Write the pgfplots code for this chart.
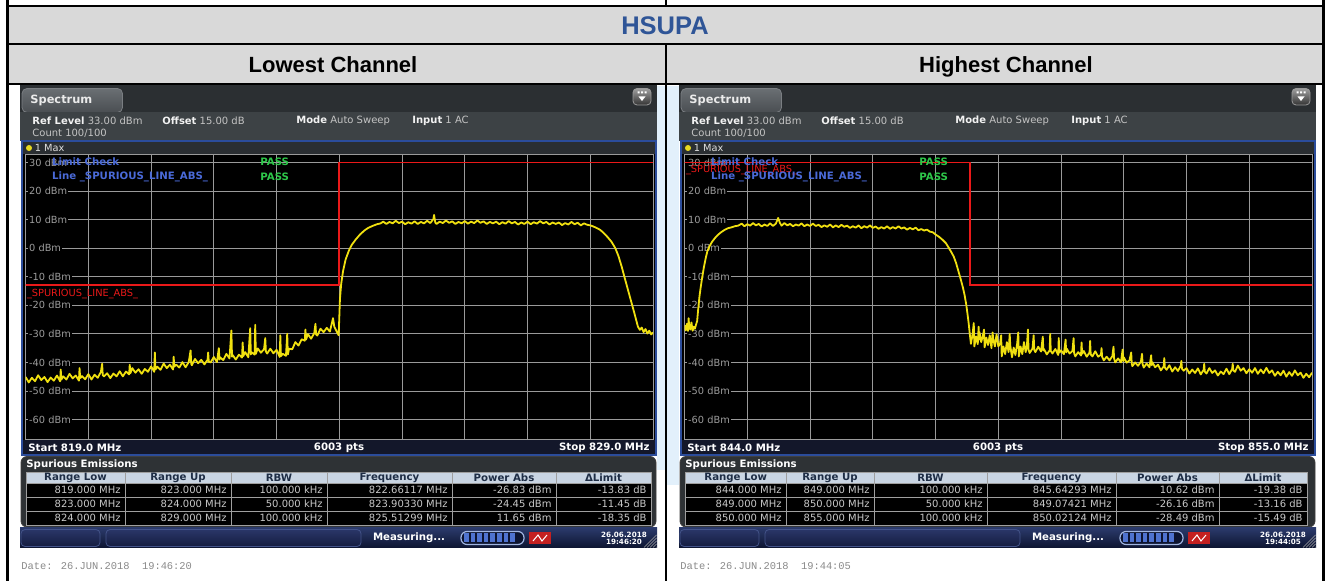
\documentclass[border=0pt]{standalone}
\usepackage{pgfplots}
\pgfplotsset{compat=1.18}
\usepackage{fontspec}
\setmainfont{Liberation Sans}
\newfontfamily\dv{DejaVu Sans}
\newfontfamily\lmono{Liberation Mono}
\definecolor{hdrgray}{HTML}{D9D9D9}
\definecolor{hdrblue}{HTML}{2F5597}
\definecolor{wm}{HTML}{E2F0FB}
\definecolor{topbar}{HTML}{2B2F32}
\definecolor{infobar}{HTML}{3D4245}
\definecolor{tabtop}{HTML}{6A6F73}
\definecolor{tabbot}{HTML}{4A4E52}
\definecolor{tabedge}{HTML}{7A7E82}
\definecolor{winblue}{HTML}{2B4C9B}
\definecolor{wintitle}{HTML}{2A2E32}
\definecolor{gridc}{HTML}{9A9A9A}
\definecolor{lblc}{HTML}{9C9C9C}
\definecolor{trace}{HTML}{F0E010}
\definecolor{limred}{RGB}{235,25,25}
\definecolor{lcblue}{HTML}{4A6AD8}
\definecolor{passg}{HTML}{2EC84A}
\definecolor{strip}{HTML}{13172A}
\definecolor{spurbg}{HTML}{2E3235}
\definecolor{thead}{HTML}{C9D5E3}
\definecolor{theadtxt}{HTML}{1E2D45}
\definecolor{cellc}{HTML}{C8C8C8}
\definecolor{valc}{HTML}{C4C4C4}
\definecolor{stattop}{HTML}{2B3A6B}
\definecolor{statbot}{HTML}{0D1430}
\definecolor{btntop}{HTML}{2A3668}
\definecolor{btnbot}{HTML}{151D40}
\definecolor{btnedge}{HTML}{44548A}
\definecolor{progedge}{HTML}{A0B4E0}
\definecolor{progc}{HTML}{4F73D0}
\definecolor{redc}{HTML}{C42020}
\definecolor{dotc}{HTML}{E8D820}
\definecolor{datec}{HTML}{8A8A8A}
\newcommand\fs[1]{\fontsize{#1}{#1}\selectfont}
\tikzset{
  cellt/.style={anchor=east,inner sep=0,font=\dv\fs{5},text=cellc},
  hd/.style={inner sep=0,font=\dv\bfseries\fs{5.1},text=theadtxt},
  wt/.style={inner sep=0,font=\dv\bfseries\fs{5.1},text=white},
  inf/.style={anchor=west,inner sep=0,font=\dv\fs{5}},
  lblnode/.style={anchor=west, inner sep=0.6pt, fill=black, text=lblc, font=\dv\fs{4.9}, xshift=1pt},
}
\pgfplotsset{
  spec/.style={anchor=north west, width=313.7pt, height=142.75pt, scale only axis,
    ymin=-67, ymax=33, ytick={-60,-50,...,30}, xticklabels={}, yticklabels={},
    major tick length=0pt, grid=major, major grid style={gridc, line width=0.45pt},
    axis line style={gridc, line width=0.45pt}, axis background/.style={fill=black},
    clip=true},
}
% chrome of one analyser screenshot: #1 start, #2 stop, #3 time
\newcommand\chrome[3]{%
  \fill[topbar] (20,85.5) rectangle (657,112);
  \shadedraw[top color=tabtop,bottom color=tabbot,draw=tabedge,rounded corners=2.5] (22,88.5) rectangle (122.5,112.5);
  \node[anchor=west,inner sep=0,font=\dv\bfseries\fs{5.7},text=white!92!black] at (30,100) {Spectrum};
  \shadedraw[top color=gray!75,bottom color=gray!40!black,draw=gray!80,rounded corners=2] (633,88.5) rectangle (651,105);
  \fill[white] (637.5,91.5) rectangle (639.5,93.5) (641,91.5) rectangle (643,93.5) (644.5,91.5) rectangle (646.5,93.5);
  \fill[white] (638.5,96.5) -- (645.5,96.5) -- (642,101) -- cycle;
  \fill[infobar] (20,112) rectangle (657,141);
  \node[inf] at (32,121) {\textcolor{white!95!black}{\bfseries Ref Level}\ \textcolor{valc}{33.00 dBm}};
  \node[inf] at (162,121) {\textcolor{white!95!black}{\bfseries Offset}\ \textcolor{valc}{15.00 dB}};
  \node[inf] at (296,121) {\textcolor{white!95!black}{\bfseries Mode}\ \textcolor{valc}{Auto Sweep}};
  \node[inf] at (412,121) {\textcolor{white!95!black}{\bfseries Input}\ \textcolor{valc}{1 AC}};
  \node[inf,text=valc] at (32,133) {Count 100/100};
  \fill[wintitle] (22,141) rectangle (656,154);
  \fill[black] (22,154) rectangle (656,440);
  \fill[strip] (22,440) rectangle (656,455);
  \draw[winblue,line width=1pt] (22,141) rectangle (656,455.5);
  \fill[dotc] (29,148) circle (1.5pt);
  \node[anchor=west,inner sep=0,font=\dv\fs{4.9},text=gray!25] at (34.5,148) {1 Max};
  \node[wt,anchor=west] at (28,447.5) {Start #1 MHz};
  \node[wt] at (339,447.5) {6003 pts};
  \node[wt,anchor=east] at (650,447.5) {Stop #2 MHz};
  \filldraw[fill=spurbg, draw=gray!50!black, rounded corners=3] (21,456.5) rectangle (656,527);
  \node[wt,anchor=west] at (26,464.5) {Spurious Emissions};
  \shade[top color=stattop,bottom color=statbot] (20,528) rectangle (657,548);
  \shadedraw[top color=btntop,bottom color=btnbot,draw=btnedge,rounded corners=2] (21,529.5) rectangle (100,546.5);
  \shadedraw[top color=btntop,bottom color=btnbot,draw=btnedge,rounded corners=2] (106,529.5) rectangle (361,546.5);
  \node[wt] at (409,538) {Measuring...};
  \draw[draw=progedge, fill=statbot, rounded corners=3, line width=0.6pt] (461,531.5) rectangle (524,544.5);
  \foreach \k in {0,...,7} \fill[progc] ({464+\k*6.6},533.5) rectangle ({468.5+\k*6.6},542.5);
  \fill[redc] (529,532) rectangle (551,544.5);
  \draw[white,line width=0.5pt] (533,541) -- (538,535) -- (542,541) -- (547,535);
  \node[align=center,inner sep=0,font=\dv\bfseries\fs{3.6},text=white] at (624,538) {26.06.2018\\#3};
  \foreach \k in {0,...,4} \draw[gray!70,line width=0.35pt] ({644+\k*3},547.5) -- (656.5,{535+\k*3});
  \node[anchor=west,inner sep=0,font=\lmono\fs{5.2},text=datec] at (21,566.5) {Date: 26.JUN.2018\ \ #3};
}
% table grid: 7 column edges
\newcommand\tgrid[7]{%
  \fill[thead] (#1,472) rectangle (#7,483);
  \fill[black] (#1,483) rectangle (#7,525);
  \foreach \yy in {483,497,511} \draw[gray!75,line width=0.4pt] (#1,\yy) -- (#7,\yy);
  \foreach \xx in {#2,#3,#4,#5,#6} \draw[gray!75,line width=0.4pt] (\xx,472) -- (\xx,525);
  \draw[gray!75,line width=0.4pt] (#1,472) rectangle (#7,525);
  \node[hd] at ({(#1+#2)/2},477.5) {Range Low};
  \node[hd] at ({(#2+#3)/2},477.5) {Range Up};
  \node[hd] at ({(#3+#4)/2},477.5) {RBW};
  \node[hd] at ({(#4+#5)/2},477.5) {Frequency};
  \node[hd] at ({(#5+#6)/2},477.5) {Power Abs};
  \node[hd] at ({(#6+#7)/2},477.5) {ΔLimit};
  \def\ca{#2}\def\cb{#3}\def\cc{#4}\def\cd{#5}\def\ce{#6}\def\cf{#7}%
}
\newcommand\trow[7]{%
  \node[cellt] at ({\ca-4},#1) {#2};
  \node[cellt] at ({\cb-4},#1) {#3};
  \node[cellt] at ({\cc-4},#1) {#4};
  \node[cellt] at ({\cd-4},#1) {#5};
  \node[cellt] at ({\ce-4},#1) {#6};
  \node[cellt] at ({\cf-4},#1) {#7};
}
\begin{document}
\begin{tikzpicture}
\begin{scope}[x=0.5pt,y=-0.5pt]
\useasboundingbox (0,0) rectangle (1330,581);
\fill[white] (0,0) rectangle (1330,581);
% header table
\fill[hdrgray] (9,7) rectangle (1322,43.5);
\fill[hdrgray] (9,45.3) rectangle (1322,83.5);
\fill[wm] (657,86) rectangle (664.8,470);
\fill[wm] (667.3,86) rectangle (679,485);
\fill[black] (6,0) rectangle (9,581);
\fill[black] (1322,0) rectangle (1325,581);
\fill[black] (6,5) rectangle (1325,7);
\fill[black] (6,43.3) rectangle (1325,45.3);
\fill[black] (6,83.5) rectangle (1325,85.5);
\fill[black] (664.8,0) rectangle (667.3,5);
\fill[black] (664.8,45) rectangle (667.3,581);
\node[anchor=base,inner sep=0,font=\bfseries\fs{12.75},text=hdrblue] at (665,35) {HSUPA};
\node[anchor=base,inner sep=0,font=\bfseries\fs{11}] at (333,72.5) {Lowest Channel};
\node[anchor=base,inner sep=0,font=\bfseries\fs{11}] at (1006,72.5) {Highest Channel};
% left screenshot
\chrome{819.0}{829.0}{19:46:20}
\tgrid{26}{125}{231}{327}{452}{556}{651}
\trow{490}{819.000 MHz}{823.000 MHz}{100.000 kHz}{822.66117 MHz}{-26.83 dBm}{-13.83 dB}
\trow{504}{823.000 MHz}{824.000 MHz}{50.000 kHz}{823.90330 MHz}{-24.45 dBm}{-11.45 dB}
\trow{518}{824.000 MHz}{829.000 MHz}{100.000 kHz}{825.51299 MHz}{11.65 dBm}{-18.35 dB}
\end{scope}
% right screenshot
\begin{scope}[x=0.5pt,y=-0.5pt,xshift=329.5pt]
\chrome{844.0}{855.0}{19:44:05}
\tgrid{26.5}{127}{215}{328}{457}{560}{648}
\trow{490}{844.000 MHz}{849.000 MHz}{100.000 kHz}{845.64293 MHz}{10.62 dBm}{-19.38 dB}
\trow{504}{849.000 MHz}{850.000 MHz}{50.000 kHz}{849.07421 MHz}{-26.16 dBm}{-13.16 dB}
\trow{518}{850.000 MHz}{855.000 MHz}{100.000 kHz}{850.02124 MHz}{-28.49 dBm}{-15.49 dB}
\end{scope}
% left spectrum
\begin{axis}[spec, at={(12.8pt,-77pt)}, xmin=819, xmax=829, xtick={819,820,...,829}]
\node[lblnode] at (axis cs:819,30) {30 dBm};
\node[lblnode] at (axis cs:819,20) {20 dBm};
\node[lblnode] at (axis cs:819,10) {10 dBm};
\node[lblnode] at (axis cs:819,0) {0 dBm};
\node[lblnode] at (axis cs:819,-10) {-10 dBm};
\node[lblnode] at (axis cs:819,-20) {-20 dBm};
\node[lblnode] at (axis cs:819,-30) {-30 dBm};
\node[lblnode] at (axis cs:819,-40) {-40 dBm};
\node[lblnode] at (axis cs:819,-50) {-50 dBm};
\node[lblnode] at (axis cs:819,-60) {-60 dBm};
\node[anchor=north west,inner sep=0,text=limred,font=\dv\fs{4.9},xshift=0.5pt] at (axis cs:819,-14.2) {\_SPURIOUS\_LINE\_ABS\_};
\addplot[draw=limred, line width=0.9pt, mark=none] coordinates {(818.9,-13) (824,-13) (824,30) (829.1,30)};
\addplot[trace, line width=0.9pt, line join=round] coordinates {
(819.00,-45.1) (819.05,-47.0) (819.10,-45.4) (819.15,-46.6) (819.20,-44.5) (819.25,-46.2) (819.30,-45.1) (819.35,-46.9) (819.40,-45.3) (819.45,-46.4) (819.50,-44.6) (819.55,-46.6) (819.56,-42.5) (819.57,-46.0)
(819.60,-44.9) (819.65,-46.0) (819.70,-44.0) (819.75,-45.6) (819.80,-44.6) (819.85,-46.4) (819.86,-42.0) (819.87,-45.5) (819.90,-44.8) (819.95,-45.9)
(820.00,-44.1) (820.05,-46.0) (820.10,-44.3) (820.15,-45.4) (820.20,-43.3) (820.22,-40.5) (820.23,-44.5) (820.25,-44.9) (820.30,-43.8) (820.35,-45.5) (820.40,-43.9) (820.45,-44.9)
(820.50,-43.1) (820.55,-44.9) (820.60,-43.2) (820.65,-44.2) (820.66,-40.8) (820.67,-43.8) (820.70,-42.0) (820.75,-43.6) (820.80,-42.4) (820.85,-44.0) (820.90,-42.3) (820.95,-43.3)
(821.00,-41.4) (821.05,-43.3) (821.06,-36.5) (821.07,-42.5) (821.10,-41.5) (821.15,-42.6) (821.20,-40.4) (821.25,-42.0) (821.30,-40.8) (821.35,-42.5) (821.36,-38.0) (821.37,-41.5) (821.40,-40.8) (821.45,-41.8)
(821.50,-39.9) (821.55,-41.7) (821.60,-39.9) (821.63,-35.8) (821.64,-40.5) (821.65,-41.0) (821.70,-38.8) (821.75,-40.3) (821.80,-39.1) (821.85,-40.7) (821.90,-39.1) (821.91,-36.5) (821.92,-39.8) (821.95,-40.0)
(822.00,-38.1) (822.05,-39.9) (822.08,-35.0) (822.09,-39.0) (822.10,-38.2) (822.15,-39.2) (822.20,-37.0) (822.25,-38.6) (822.28,-28.8) (822.29,-38.0) (822.30,-37.4) (822.35,-39.0) (822.40,-37.3) (822.45,-38.3) (822.46,-33.0) (822.47,-37.8)
(822.50,-36.4) (822.55,-38.2) (822.58,-28.0) (822.59,-37.2) (822.60,-36.4) (822.65,-37.3) (822.66,-26.8) (822.67,-37.0) (822.70,-35.1) (822.75,-36.6) (822.80,-35.4) (822.82,-31.5) (822.83,-36.2) (822.85,-36.9) (822.90,-35.2) (822.95,-36.8)
(823.00,-35.6) (823.05,-38.1) (823.06,-30.5) (823.07,-37.8) (823.10,-37.0) (823.15,-37.7) (823.17,-30.0) (823.18,-37.2) (823.20,-35.2) (823.25,-35.4) (823.30,-32.9) (823.35,-34.1) (823.40,-31.9) (823.45,-32.4) (823.46,-28.5) (823.47,-32.0)
(823.50,-30.1) (823.55,-31.7) (823.60,-29.8) (823.62,-26.5) (823.63,-30.2) (823.65,-30.6) (823.70,-28.2) (823.75,-29.4) (823.80,-27.9) (823.85,-29.2) (823.90,-24.5) (823.92,-27.5) (823.95,-28.8) (823.99,-30.5)
(824.01,-18.0) (824.03,-12.5) (824.06,-8.0) (824.10,-4.0) (824.15,-1.0) (824.20,1.2) (824.26,3.0) (824.33,4.8) (824.40,6.2) (824.46,7.1) (824.53,7.8) (824.60,8.4) (824.66,8.7)
(824.70,9.3) (824.75,8.5) (824.80,9.2) (824.85,8.7) (824.90,9.6) (824.95,8.8) (825.00,9.3) (825.05,8.4) (825.10,9.1) (825.15,8.6) (825.20,9.4) (825.25,8.5) (825.30,9.2) (825.35,8.7) (825.40,9.6) (825.45,8.8)
(825.50,10.2) (825.51,11.65) (825.53,9.0) (825.55,8.5) (825.60,9.3) (825.65,8.8) (825.70,9.7) (825.75,8.9) (825.80,9.4) (825.85,8.5) (825.90,9.2) (825.95,8.7)
(826.00,9.5) (826.05,8.6) (826.10,9.3) (826.15,8.8) (826.20,9.7) (826.25,8.9) (826.30,9.4) (826.35,8.5) (826.40,9.2) (826.45,8.7)
(826.50,9.3) (826.55,8.4) (826.60,9.1) (826.65,8.6) (826.70,9.5) (826.75,8.7) (826.80,9.2) (826.85,8.3) (826.90,9.0) (826.95,8.5)
(827.00,9.3) (827.05,8.4) (827.10,9.1) (827.15,8.6) (827.20,9.5) (827.25,8.7) (827.30,9.2) (827.35,8.3) (827.40,9.0) (827.45,8.5)
(827.50,9.0) (827.55,8.1) (827.60,8.8) (827.65,8.3) (827.70,9.2) (827.75,8.4) (827.80,8.9) (827.85,8.0) (827.90,8.7) (827.95,8.2)
(828.00,8.0) (828.05,7.6) (828.10,7.1) (828.16,6.4) (828.22,5.2) (828.28,3.8) (828.34,2.2) (828.40,0.0) (828.45,-2.8) (828.50,-6.4) (828.55,-10.5) (828.60,-14.5) (828.65,-18.5) (828.70,-22.5) (828.73,-25.0)
(828.76,-27.5) (828.79,-28.6) (828.82,-27.8) (828.85,-29.4) (828.88,-28.3) (828.91,-29.9) (828.94,-28.9) (828.97,-30.2) (829.00,-29.5)
};
\end{axis}
% right spectrum
\begin{axis}[spec, at={(342.3pt,-77pt)}, xmin=844, xmax=855, xtick={844,845.1,846.2,847.3,848.4,849.5,850.6,851.7,852.8,853.9,855}]
\node[lblnode] at (axis cs:844,30) {30 dBm};
\node[lblnode] at (axis cs:844,20) {20 dBm};
\node[lblnode] at (axis cs:844,10) {10 dBm};
\node[lblnode] at (axis cs:844,0) {0 dBm};
\node[lblnode] at (axis cs:844,-10) {-10 dBm};
\node[lblnode] at (axis cs:844,-20) {-20 dBm};
\node[lblnode] at (axis cs:844,-30) {-30 dBm};
\node[lblnode] at (axis cs:844,-40) {-40 dBm};
\node[lblnode] at (axis cs:844,-50) {-50 dBm};
\node[lblnode] at (axis cs:844,-60) {-60 dBm};
\node[anchor=north west,inner sep=0,text=limred,font=\dv\fs{4.9},xshift=0.5pt] at (axis cs:844,29.2) {\_SPURIOUS\_LINE\_ABS\_};
\addplot[draw=limred, line width=0.9pt, mark=none] coordinates {(843.9,30) (849,30) (849,-13) (855.1,-13)};
\addplot[trace, line width=0.9pt, line join=round] coordinates {
(844.00,-27.0) (844.02,-28.8) (844.04,-26.5) (844.06,-29.0) (844.07,-24.5) (844.08,-27.2) (844.10,-28.5) (844.12,-26.0) (844.14,-28.9) (844.16,-27.5) (844.18,-28.2) (844.20,-26.8)
(844.22,-25.5) (844.24,-21.0) (844.26,-17.0) (844.28,-14.0) (844.31,-10.0) (844.34,-6.5) (844.37,-3.5) (844.40,-1.0) (844.44,0.8) (844.48,2.2) (844.53,3.5) (844.58,4.6) (844.64,5.6) (844.70,6.4) (844.76,7.0) (844.82,7.3) (844.88,7.7) (844.94,7.9)
(845.00,8.6) (845.05,7.7) (845.10,8.4) (845.15,7.9) (845.20,8.8) (845.25,8.0) (845.30,8.5) (845.35,7.6) (845.40,8.3) (845.45,7.8) (845.50,8.7) (845.55,7.8) (845.60,8.6) (845.64,10.6) (845.67,8.9) (845.70,7.9) (845.75,8.8) (845.80,8.0) (845.85,8.5) (845.90,7.7) (845.95,8.3)
(846.00,7.9) (846.05,8.7) (846.10,7.7) (846.15,8.3) (846.20,7.8) (846.25,8.6) (846.30,7.8) (846.35,8.2) (846.40,7.4) (846.45,8.0) (846.50,7.5) (846.55,8.3) (846.60,7.3) (846.65,8.0) (846.70,7.4) (846.75,8.2) (846.80,7.5) (846.85,7.9) (846.90,7.1) (846.95,7.7)
(847.00,7.2) (847.05,8.0) (847.10,7.0) (847.15,7.7) (847.20,7.2) (847.25,8.0) (847.30,7.1) (847.35,7.6) (847.40,6.8) (847.45,7.4) (847.50,6.9) (847.55,7.7) (847.60,6.8) (847.65,7.4) (847.70,6.9) (847.75,7.7) (847.80,6.9) (847.85,7.3) (847.90,6.5) (847.95,7.1)
(848.00,6.6) (848.05,7.2) (848.10,6.3) (848.15,6.7) (848.20,6.2) (848.25,6.5) (848.30,5.8) (848.35,5.6) (848.40,4.8) (848.46,4.0) (848.52,3.0) (848.58,1.8) (848.63,0.2) (848.68,-1.5) (848.72,-3.0) (848.76,-5.2) (848.80,-8.0) (848.84,-10.8) (848.88,-13.8) (848.91,-16.5) (848.94,-20.0) (848.96,-23.0) (848.98,-26.2) (849.00,-30.0) (849.02,-33.5)
(849.05,-30.0) (849.07,-26.2) (849.08,-34.4) (849.11,-30.9) (849.14,-33.6) (849.155,-27.5) (849.165,-32.0) (849.17,-29.4) (849.20,-32.9) (849.23,-30.6) (849.25,-28.5) (849.26,-34.7) (849.29,-31.3) (849.32,-33.9) (849.35,-30.5) (849.38,-35.0) (849.40,-29.5) (849.41,-31.6) (849.44,-34.4) (849.47,-30.2)
(849.50,-34.4) (849.53,-33.5) (849.55,-30.5) (849.56,-37.9) (849.59,-34.4) (849.62,-37.1) (849.65,-32.9) (849.68,-36.4) (849.70,-30.0) (849.71,-34.1) (849.74,-38.2) (849.77,-34.8) (849.80,-37.4) (849.83,-33.5) (849.85,-29.5) (849.86,-37.9) (849.89,-34.4) (849.92,-37.1) (849.95,-32.9) (849.98,-36.4)
(850.00,-34.6) (850.02,-28.5) (850.03,-35.5) (850.05,-36.7) (850.10,-35.1) (850.12,-30.5) (850.13,-35.6) (850.15,-36.4) (850.20,-34.5) (850.25,-36.2) (850.28,-31.0) (850.29,-35.8) (850.30,-35.3) (850.35,-37.2) (850.40,-35.8) (850.41,-30.0) (850.42,-36.0) (850.45,-36.9)
(850.50,-35.3) (850.55,-37.4) (850.56,-31.5) (850.57,-36.6) (850.60,-35.8) (850.65,-37.1) (850.68,-32.0) (850.69,-36.5) (850.70,-35.2) (850.75,-36.9) (850.80,-36.0) (850.82,-31.5) (850.83,-36.8) (850.85,-37.9) (850.90,-36.4) (850.95,-37.6) (850.96,-33.0) (850.97,-37.0)
(851.00,-36.0) (851.05,-38.0) (851.10,-36.5) (851.11,-32.5) (851.12,-37.2) (851.15,-37.9) (851.20,-36.1) (851.25,-38.0) (851.30,-37.3) (851.31,-35.0) (851.32,-38.0) (851.35,-39.3) (851.40,-38.0) (851.45,-39.3)
(851.50,-37.8) (851.52,-34.5) (851.53,-38.6) (851.55,-40.0) (851.60,-38.6) (851.65,-40.0) (851.68,-35.5) (851.69,-39.6) (851.70,-38.2) (851.75,-40.1) (851.80,-39.3) (851.83,-36.5) (851.84,-40.5) (851.85,-41.3) (851.90,-40.0) (851.95,-41.2)
(852.00,-39.7) (852.02,-37.0) (852.03,-40.6) (852.05,-41.8) (852.10,-40.4) (852.15,-41.7) (852.18,-37.5) (852.19,-41.0) (852.20,-39.9) (852.25,-41.7) (852.30,-40.8) (852.35,-42.8) (852.40,-41.4) (852.41,-38.5) (852.42,-41.8) (852.45,-42.6)
(852.50,-41.0) (852.55,-43.2) (852.60,-41.7) (852.65,-43.0) (852.70,-41.1) (852.71,-39.5) (852.72,-42.2) (852.75,-42.9) (852.80,-42.0) (852.85,-43.9) (852.90,-42.5) (852.95,-43.7)
(853.00,-42.1) (853.05,-44.2) (853.10,-42.6) (853.11,-40.5) (853.12,-43.2) (853.15,-43.9) (853.20,-42.0) (853.25,-43.7) (853.30,-42.8) (853.35,-44.6) (853.40,-43.2) (853.45,-44.1)
(853.50,-42.2) (853.55,-44.1) (853.60,-42.3) (853.61,-40.5) (853.62,-42.8) (853.65,-43.3) (853.70,-41.1) (853.75,-42.9) (853.80,-42.0) (853.85,-43.8) (853.90,-42.4) (853.95,-43.6)
(854.00,-42.0) (854.05,-44.0) (854.10,-42.5) (854.15,-43.8) (854.20,-41.9) (854.25,-43.7) (854.30,-42.8) (854.35,-44.7) (854.40,-43.3) (854.45,-44.5)
(854.50,-42.9) (854.55,-45.0) (854.60,-43.4) (854.65,-44.7) (854.70,-42.8) (854.75,-44.5) (854.80,-43.6) (854.85,-45.4) (854.90,-44.0) (854.95,-45.2) (855.00,-43.6)
};
\end{axis}
% limit check overlays
\begin{scope}[x=0.5pt,y=-0.5pt]
\foreach \dx in {0,659} {
  \node[anchor=west,inner sep=0,font=\dv\bfseries\fs{5.1},text=lcblue] at (51.7+\dx,161.7) {Limit Check};
  \node[anchor=west,inner sep=0,font=\dv\bfseries\fs{5.1},text=passg] at (260+\dx,161.7) {PASS};
  \node[anchor=west,inner sep=0,font=\dv\bfseries\fs{5.1},text=lcblue] at (51.7+\dx,176.5) {Line \_SPURIOUS\_LINE\_ABS\_};
  \node[anchor=west,inner sep=0,font=\dv\bfseries\fs{5.1},text=passg] at (260+\dx,176.5) {PASS};
}
\end{scope}
\end{tikzpicture}
\end{document}
